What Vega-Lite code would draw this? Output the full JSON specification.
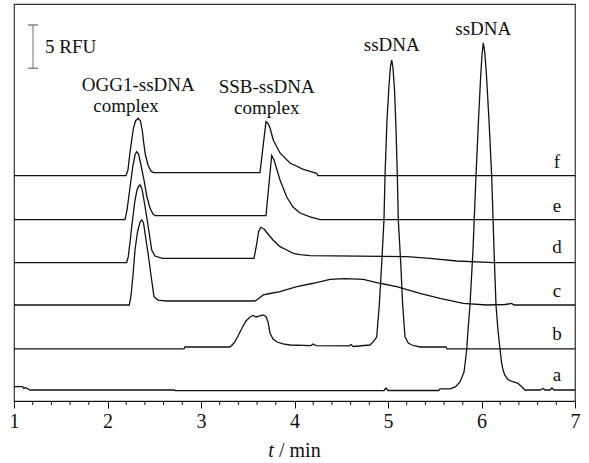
{
  "$schema": "https://vega.github.io/schema/vega-lite/v6.json",
  "autosize": {"type": "none"},
  "padding": {"left": 14, "top": 4, "right": 14, "bottom": 62},
  "width": 561,
  "height": 397,
  "background": "white",
  "config": {
    "view": {"stroke": "#333", "strokeWidth": 1.2},
    "font": "Liberation Serif",
    "text": {"font": "Liberation Serif", "fontSize": 19, "color": "#111"},
    "axisX": {
      "labelFont": "Liberation Serif",
      "labelFontSize": 20,
      "labelColor": "#111",
      "tickColor": "#111",
      "domainColor": "#111",
      "tickSize": 7,
      "tickWidth": 1,
      "labelPadding": 3,
      "labelOverlap": false,
      "labelFlush": false,
      "grid": false
    }
  },
  "datasets": {
    "traces": [
      {"k":"f","t":1.000,"v":26.20},{"k":"f","t":2.198,"v":26.20},{"k":"f","t":2.219,"v":26.86},{"k":"f","t":2.241,"v":28.95},{"k":"f","t":2.259,"v":30.35},{"k":"f","t":2.278,"v":31.74},{"k":"f","t":2.299,"v":32.56},{"k":"f","t":2.329,"v":32.87},{"k":"f","t":2.353,"v":32.56},{"k":"f","t":2.374,"v":31.28},{"k":"f","t":2.390,"v":29.77},{"k":"f","t":2.406,"v":28.60},{"k":"f","t":2.433,"v":27.44},{"k":"f","t":2.465,"v":26.74},{"k":"f","t":2.490,"v":26.55},{"k":"f","t":3.631,"v":26.55},{"k":"f","t":3.695,"v":32.48},{"k":"f","t":3.717,"v":32.27},{"k":"f","t":3.738,"v":31.74},{"k":"f","t":3.773,"v":30.35},{"k":"f","t":3.845,"v":28.84},{"k":"f","t":3.952,"v":27.67},{"k":"f","t":4.094,"v":26.94},{"k":"f","t":4.237,"v":26.48},{"k":"f","t":4.251,"v":26.20},{"k":"f","t":7.000,"v":26.20},
      {"k":"e","t":1.000,"v":21.08},{"k":"e","t":2.187,"v":21.08},{"k":"e","t":2.209,"v":22.21},{"k":"e","t":2.230,"v":23.95},{"k":"e","t":2.251,"v":25.70},{"k":"e","t":2.273,"v":27.44},{"k":"e","t":2.294,"v":28.60},{"k":"e","t":2.312,"v":28.99},{"k":"e","t":2.332,"v":28.72},{"k":"e","t":2.358,"v":27.44},{"k":"e","t":2.390,"v":25.70},{"k":"e","t":2.422,"v":23.72},{"k":"e","t":2.455,"v":22.44},{"k":"e","t":2.487,"v":21.74},{"k":"e","t":2.508,"v":21.55},{"k":"e","t":3.695,"v":21.55},{"k":"e","t":3.756,"v":28.55},{"k":"e","t":3.781,"v":28.02},{"k":"e","t":3.813,"v":26.86},{"k":"e","t":3.845,"v":25.70},{"k":"e","t":3.917,"v":23.72},{"k":"e","t":3.984,"v":22.56},{"k":"e","t":4.059,"v":21.86},{"k":"e","t":4.166,"v":21.40},{"k":"e","t":4.273,"v":21.08},{"k":"e","t":7.000,"v":21.08},
      {"k":"d","t":1.000,"v":16.08},{"k":"d","t":2.205,"v":16.08},{"k":"d","t":2.222,"v":16.78},{"k":"d","t":2.241,"v":18.49},{"k":"d","t":2.259,"v":20.27},{"k":"d","t":2.278,"v":21.98},{"k":"d","t":2.294,"v":23.37},{"k":"d","t":2.316,"v":24.53},{"k":"d","t":2.329,"v":24.92},{"k":"d","t":2.348,"v":25.12},{"k":"d","t":2.369,"v":24.65},{"k":"d","t":2.390,"v":23.37},{"k":"d","t":2.419,"v":21.43},{"k":"d","t":2.444,"v":19.65},{"k":"d","t":2.473,"v":17.56},{"k":"d","t":2.508,"v":16.86},{"k":"d","t":2.586,"v":16.59},{"k":"d","t":3.567,"v":16.59},{"k":"d","t":3.594,"v":18.14},{"k":"d","t":3.615,"v":19.65},{"k":"d","t":3.639,"v":20.20},{"k":"d","t":3.674,"v":20.00},{"k":"d","t":3.717,"v":19.42},{"k":"d","t":3.770,"v":18.72},{"k":"d","t":3.845,"v":17.94},{"k":"d","t":3.917,"v":17.56},{"k":"d","t":3.987,"v":17.17},{"k":"d","t":4.059,"v":17.03},{"k":"d","t":4.166,"v":16.90},{"k":"d","t":5.200,"v":16.78},{"k":"d","t":5.449,"v":16.59},{"k":"d","t":5.735,"v":16.28},{"k":"d","t":6.126,"v":16.08},{"k":"d","t":7.000,"v":16.08},
      {"k":"c","t":1.000,"v":11.16},{"k":"c","t":2.233,"v":11.16},{"k":"c","t":2.251,"v":12.21},{"k":"c","t":2.273,"v":14.65},{"k":"c","t":2.294,"v":17.56},{"k":"c","t":2.321,"v":19.65},{"k":"c","t":2.348,"v":20.81},{"k":"c","t":2.366,"v":21.05},{"k":"c","t":2.385,"v":20.70},{"k":"c","t":2.412,"v":18.72},{"k":"c","t":2.436,"v":16.98},{"k":"c","t":2.465,"v":14.65},{"k":"c","t":2.497,"v":12.13},{"k":"c","t":2.540,"v":11.74},{"k":"c","t":2.633,"v":11.63},{"k":"c","t":3.578,"v":11.63},{"k":"c","t":3.610,"v":11.86},{"k":"c","t":3.666,"v":12.33},{"k":"c","t":3.738,"v":12.50},{"k":"c","t":3.845,"v":12.71},{"k":"c","t":4.024,"v":13.29},{"k":"c","t":4.201,"v":13.69},{"k":"c","t":4.380,"v":14.15},{"k":"c","t":4.540,"v":14.24},{"k":"c","t":4.736,"v":14.15},{"k":"c","t":4.914,"v":13.69},{"k":"c","t":5.093,"v":13.29},{"k":"c","t":5.342,"v":12.52},{"k":"c","t":5.556,"v":11.94},{"k":"c","t":5.805,"v":11.36},{"k":"c","t":6.056,"v":11.16},{"k":"c","t":6.251,"v":11.22},{"k":"c","t":6.323,"v":11.34},{"k":"c","t":6.348,"v":11.16},{"k":"c","t":7.000,"v":11.16},
      {"k":"b","t":1.000,"v":6.05},{"k":"b","t":2.818,"v":6.05},{"k":"b","t":2.829,"v":6.28},{"k":"b","t":3.310,"v":6.28},{"k":"b","t":3.353,"v":6.74},{"k":"b","t":3.396,"v":7.56},{"k":"b","t":3.439,"v":8.49},{"k":"b","t":3.481,"v":9.30},{"k":"b","t":3.524,"v":9.77},{"k":"b","t":3.556,"v":9.94},{"k":"b","t":3.588,"v":9.77},{"k":"b","t":3.620,"v":9.88},{"k":"b","t":3.663,"v":10.00},{"k":"b","t":3.695,"v":9.83},{"k":"b","t":3.717,"v":9.19},{"k":"b","t":3.738,"v":7.91},{"k":"b","t":3.770,"v":7.21},{"k":"b","t":3.813,"v":6.86},{"k":"b","t":3.877,"v":6.63},{"k":"b","t":3.952,"v":6.51},{"k":"b","t":4.176,"v":6.45},{"k":"b","t":4.198,"v":6.63},{"k":"b","t":4.230,"v":6.45},{"k":"b","t":4.583,"v":6.40},{"k":"b","t":4.604,"v":6.57},{"k":"b","t":4.626,"v":6.34},{"k":"b","t":4.807,"v":6.51},{"k":"b","t":4.843,"v":6.90},{"k":"b","t":4.879,"v":7.44},{"k":"b","t":4.907,"v":11.16},{"k":"b","t":4.933,"v":16.08},{"k":"b","t":4.957,"v":21.08},{"k":"b","t":4.968,"v":26.16},{"k":"b","t":4.989,"v":32.67},{"k":"b","t":5.011,"v":36.74},{"k":"b","t":5.027,"v":38.95},{"k":"b","t":5.040,"v":39.65},{"k":"b","t":5.053,"v":38.72},{"k":"b","t":5.070,"v":36.16},{"k":"b","t":5.086,"v":31.51},{"k":"b","t":5.100,"v":26.16},{"k":"b","t":5.110,"v":21.08},{"k":"b","t":5.136,"v":16.08},{"k":"b","t":5.157,"v":11.16},{"k":"b","t":5.182,"v":7.44},{"k":"b","t":5.217,"v":6.74},{"k":"b","t":5.254,"v":6.51},{"k":"b","t":5.342,"v":6.28},{"k":"b","t":5.620,"v":6.28},{"k":"b","t":5.631,"v":6.05},{"k":"b","t":7.000,"v":6.05},
      {"k":"a","t":1.000,"v":1.67},{"k":"a","t":1.091,"v":1.67},{"k":"a","t":1.107,"v":1.45},{"k":"a","t":1.123,"v":1.57},{"k":"a","t":1.171,"v":1.28},{"k":"a","t":2.716,"v":1.28},{"k":"a","t":2.722,"v":1.20},{"k":"a","t":4.861,"v":1.20},{"k":"a","t":4.957,"v":1.22},{"k":"a","t":4.979,"v":1.51},{"k":"a","t":5.000,"v":1.22},{"k":"a","t":5.543,"v":1.22},{"k":"a","t":5.556,"v":1.40},{"k":"a","t":5.663,"v":1.40},{"k":"a","t":5.724,"v":1.67},{"k":"a","t":5.770,"v":2.21},{"k":"a","t":5.813,"v":3.37},{"k":"a","t":5.829,"v":4.77},{"k":"a","t":5.842,"v":6.05},{"k":"a","t":5.856,"v":8.26},{"k":"a","t":5.877,"v":11.16},{"k":"a","t":5.909,"v":17.56},{"k":"a","t":5.941,"v":26.16},{"k":"a","t":5.968,"v":32.67},{"k":"a","t":5.989,"v":37.33},{"k":"a","t":6.005,"v":40.23},{"k":"a","t":6.019,"v":41.63},{"k":"a","t":6.035,"v":40.58},{"k":"a","t":6.053,"v":37.91},{"k":"a","t":6.080,"v":32.67},{"k":"a","t":6.109,"v":26.16},{"k":"a","t":6.134,"v":17.56},{"k":"a","t":6.155,"v":11.16},{"k":"a","t":6.176,"v":8.26},{"k":"a","t":6.198,"v":6.05},{"k":"a","t":6.214,"v":4.53},{"k":"a","t":6.230,"v":3.60},{"k":"a","t":6.251,"v":2.97},{"k":"a","t":6.283,"v":2.50},{"k":"a","t":6.326,"v":2.27},{"k":"a","t":6.386,"v":2.09},{"k":"a","t":6.422,"v":1.74},{"k":"a","t":6.465,"v":1.28},{"k":"a","t":6.626,"v":1.28},{"k":"a","t":6.658,"v":1.45},{"k":"a","t":6.679,"v":1.28},{"k":"a","t":6.733,"v":1.28},{"k":"a","t":6.754,"v":1.51},{"k":"a","t":6.775,"v":1.28},{"k":"a","t":7.000,"v":1.28}
    ],
    "centerLabels": [
      {"t":2.329,"v":36.03,"text":"OGG1-ssDNA"},
      {"t":2.198,"v":33.62,"text":"complex"},
      {"t":3.703,"v":35.76,"text":"SSB-ssDNA"},
      {"t":3.703,"v":33.40,"text":"complex"},
      {"t":5.040,"v":40.70,"text":"ssDNA"},
      {"t":6.019,"v":42.56,"text":"ssDNA"},
      {"t":6.807,"v":27.06,"text":"f"},
      {"t":6.807,"v":22.01,"text":"e"},
      {"t":6.807,"v":17.17,"text":"d"},
      {"t":6.807,"v":12.13,"text":"c"},
      {"t":6.807,"v":7.09,"text":"b"},
      {"t":6.807,"v":2.33,"text":"a"}
    ],
    "minorTicks": [
      {"t":1.2},{"t":1.4},{"t":1.6},{"t":1.8},
      {"t":2.2},{"t":2.4},{"t":2.6},{"t":2.8},
      {"t":3.2},{"t":3.4},{"t":3.6},{"t":3.8},
      {"t":4.2},{"t":4.4},{"t":4.6},{"t":4.8},
      {"t":5.2},{"t":5.4},{"t":5.6},{"t":5.8},
      {"t":6.2},{"t":6.4},{"t":6.6},{"t":6.8}
    ]
  },
  "layer": [
    {
      "data": {"name": "traces"},
      "mark": {"type": "line", "color": "#111", "strokeWidth": 1.3},
      "encoding": {
        "x": {
          "field": "t", "type": "quantitative",
          "scale": {"domain": [1, 7], "nice": false, "zero": false},
          "axis": {"title": null, "values": [1, 2, 3, 4, 5, 6, 7], "format": "d"}
        },
        "y": {"field": "v", "type": "quantitative", "scale": {"domain": [0, 46.16], "nice": false, "zero": false}, "axis": null},
        "detail": {"field": "k", "type": "nominal"}
      }
    },
    {
      "data": {"name": "minorTicks"},
      "mark": {"type": "rule", "color": "#111", "strokeWidth": 1},
      "encoding": {
        "x": {"field": "t", "type": "quantitative", "scale": {"domain": [1, 7], "nice": false, "zero": false}, "axis": {"title": null}},
        "y": {"datum": 0, "type": "quantitative", "scale": {"domain": [0, 46.16], "nice": false, "zero": false}, "axis": null},
        "y2": {"datum": -0.47}
      }
    },
    {
      "data": {"values": [{"t": 1.203, "lo": 38.69, "hi": 43.72}]},
      "mark": {"type": "rule", "color": "#888", "strokeWidth": 1.2},
      "encoding": {
        "x": {"field": "t", "type": "quantitative", "scale": {"domain": [1, 7], "nice": false, "zero": false}, "axis": {"title": null}},
        "y": {"field": "lo", "type": "quantitative", "scale": {"domain": [0, 46.16], "nice": false, "zero": false}, "axis": null},
        "y2": {"field": "hi"}
      }
    },
    {
      "data": {"values": [{"t1": 1.150, "t2": 1.257, "v": 43.72}, {"t1": 1.150, "t2": 1.257, "v": 38.69}]},
      "mark": {"type": "rule", "color": "#666", "strokeWidth": 1.2},
      "encoding": {
        "x": {"field": "t1", "type": "quantitative", "scale": {"domain": [1, 7], "nice": false, "zero": false}, "axis": {"title": null}},
        "x2": {"field": "t2"},
        "y": {"field": "v", "type": "quantitative", "scale": {"domain": [0, 46.16], "nice": false, "zero": false}, "axis": null}
      }
    },
    {
      "data": {"name": "centerLabels"},
      "mark": {"type": "text", "align": "center", "baseline": "alphabetic", "fontSize": 19},
      "encoding": {
        "x": {"field": "t", "type": "quantitative", "scale": {"domain": [1, 7], "nice": false, "zero": false}, "axis": {"title": null}},
        "y": {"field": "v", "type": "quantitative", "scale": {"domain": [0, 46.16], "nice": false, "zero": false}, "axis": null},
        "text": {"field": "text"}
      }
    },
    {
      "data": {"values": [{"t": 1.332, "v": 40.43, "text": "5 RFU"}]},
      "mark": {"type": "text", "align": "left", "baseline": "alphabetic", "fontSize": 19},
      "encoding": {
        "x": {"field": "t", "type": "quantitative", "scale": {"domain": [1, 7], "nice": false, "zero": false}, "axis": {"title": null}},
        "y": {"field": "v", "type": "quantitative", "scale": {"domain": [0, 46.16], "nice": false, "zero": false}, "axis": null},
        "text": {"field": "text"}
      }
    },
    {
      "data": {"values": [{"t": 3.749, "v": -6.51, "text": "t"}]},
      "mark": {"type": "text", "align": "center", "baseline": "alphabetic", "fontSize": 20, "fontStyle": "italic"},
      "encoding": {
        "x": {"field": "t", "type": "quantitative", "scale": {"domain": [1, 7], "nice": false, "zero": false}, "axis": {"title": null}},
        "y": {"field": "v", "type": "quantitative", "scale": {"domain": [0, 46.16], "nice": false, "zero": false}, "axis": null},
        "text": {"field": "text"}
      }
    },
    {
      "data": {"values": [{"t": 3.834, "v": -6.51, "text": "/ min"}]},
      "mark": {"type": "text", "align": "left", "baseline": "alphabetic", "fontSize": 20},
      "encoding": {
        "x": {"field": "t", "type": "quantitative", "scale": {"domain": [1, 7], "nice": false, "zero": false}, "axis": {"title": null}},
        "y": {"field": "v", "type": "quantitative", "scale": {"domain": [0, 46.16], "nice": false, "zero": false}, "axis": null},
        "text": {"field": "text"}
      }
    }
  ]
}
